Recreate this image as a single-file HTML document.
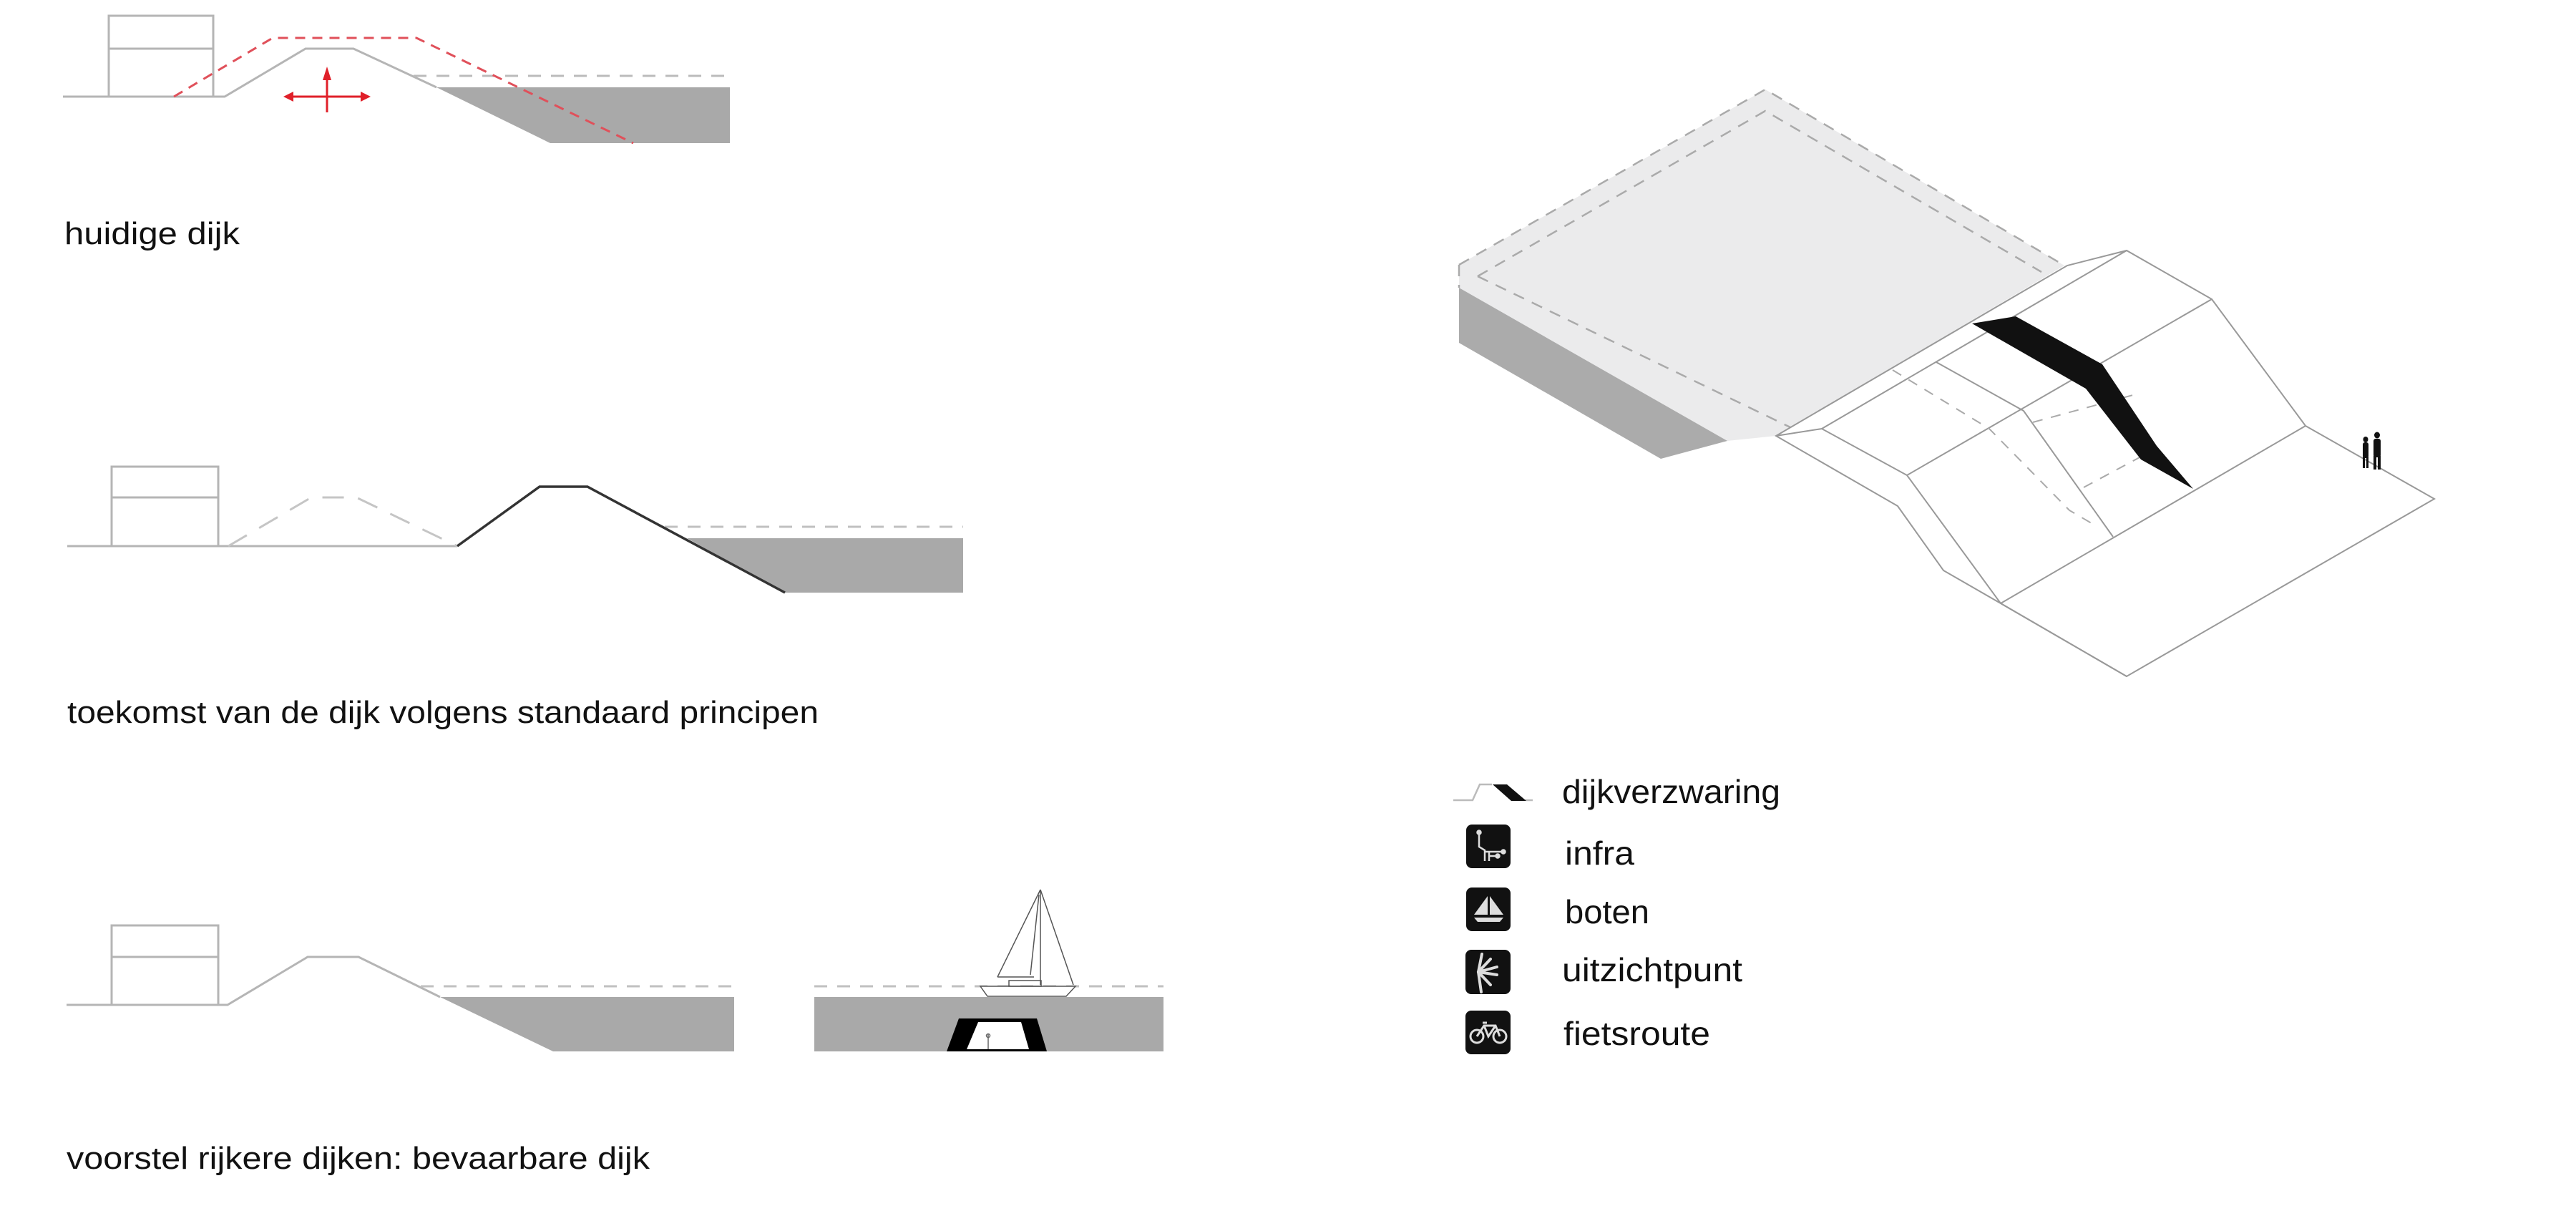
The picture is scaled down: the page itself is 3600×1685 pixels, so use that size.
<!DOCTYPE html>
<html><head><meta charset="utf-8"><style>
html,body{margin:0;padding:0;background:#fff;}
svg{display:block;}
text{font-family:"Liberation Sans",sans-serif;fill:#111;}
</style></head><body>
<svg width="3600" height="1685" viewBox="0 0 3600 1685" xmlns="http://www.w3.org/2000/svg">
<!-- Section 1: huidige dijk -->
<g fill="none" stroke="#b5b5b5" stroke-width="3">
  <polyline points="88,135 314,135 427,68 494,68 610,122"/>
  <rect x="152" y="22" width="146" height="113"/>
  <line x1="152" y1="68" x2="298" y2="68"/>
</g>
<polygon points="610,122 1020,122 1020,200 769,200" fill="#a9a9a9"/>
<line x1="578" y1="106" x2="1020" y2="106" stroke="#bbb" stroke-width="3" stroke-dasharray="18,14"/>
<polyline points="243,135 381,53 582,53 885,200" fill="none" stroke="#e0505a" stroke-width="3" stroke-dasharray="14,10"/>
<g stroke="#e0202a" stroke-width="3" fill="#e0202a">
  <line x1="457" y1="100" x2="457" y2="157"/>
  <line x1="405" y1="135" x2="508" y2="135"/>
  <polygon points="457,93 451,112 463,112" stroke="none"/>
  <polygon points="396,135 410,128 410,142" stroke="none"/>
  <polygon points="518,135 504,128 504,142" stroke="none"/>
</g>
<text x="90" y="341" font-size="44" textLength="245" lengthAdjust="spacingAndGlyphs">huidige dijk</text>

<!-- Section 2 -->
<g fill="none" stroke="#b5b5b5" stroke-width="3">
  <line x1="94" y1="763" x2="639" y2="763"/>
  <rect x="156" y="652" width="149" height="111"/>
  <line x1="156" y1="695" x2="305" y2="695"/>
</g>
<polyline points="319,763 435,695 498,695 639,763" fill="none" stroke="#c5c5c5" stroke-width="3" stroke-dasharray="30,20"/>
<polygon points="960,752 1346,752 1346,828 1097,828" fill="#a9a9a9"/>
<line x1="929" y1="736" x2="1346" y2="736" stroke="#c0c0c0" stroke-width="3" stroke-dasharray="18,14"/>
<polyline points="639,763 754,680 821,680 1097,828" fill="none" stroke="#333" stroke-width="3.5"/>
<text x="94" y="1010" font-size="44" textLength="1050" lengthAdjust="spacingAndGlyphs">toekomst van de dijk volgens standaard principen</text>

<!-- Section 3 -->
<g fill="none" stroke="#b5b5b5" stroke-width="3">
  <polyline points="93,1404 318,1404 430,1337 501,1337 615,1393"/>
  <rect x="156" y="1293" width="149" height="111"/>
  <line x1="156" y1="1337" x2="305" y2="1337"/>
</g>
<polygon points="615,1393 1026,1393 1026,1469 773,1469" fill="#a9a9a9"/>
<line x1="588" y1="1378" x2="1026" y2="1378" stroke="#c0c0c0" stroke-width="3" stroke-dasharray="18,14"/>
<rect x="1138" y="1393" width="488" height="76" fill="#a9a9a9"/>
<line x1="1138" y1="1378" x2="1626" y2="1378" stroke="#c0c0c0" stroke-width="3" stroke-dasharray="18,14"/>
<polygon points="1340,1423 1449,1423 1463,1469 1323,1469" fill="#000"/>
<polygon points="1367,1428 1427,1428 1438,1466 1351,1466" fill="#fff"/>
<g stroke="#666" stroke-width="1.5" fill="none">
  <line x1="1381" y1="1445" x2="1381" y2="1466"/>
  <circle cx="1381" cy="1447" r="2.5"/>
</g>
<!-- sailboat -->
<g stroke="#555" stroke-width="1.5" fill="none">
  <line x1="1454" y1="1243" x2="1454" y2="1376"/>
  <line x1="1454" y1="1243" x2="1394" y2="1365"/>
  <line x1="1454" y1="1243" x2="1500" y2="1376"/>
  <line x1="1452" y1="1250" x2="1440" y2="1362"/>
  <line x1="1394" y1="1365" x2="1445" y2="1365"/>
  <polygon points="1370,1378 1503,1378 1490,1392 1380,1392" fill="#fff"/>
  <rect x="1410" y="1370" width="45" height="8"/>
</g>
<text x="93" y="1633" font-size="44" textLength="815" lengthAdjust="spacingAndGlyphs">voorstel rijkere dijken: bevaarbare dijk</text>

<!-- Isometric -->
<polygon points="2039,370 2467,125 2885,371 2482,609 2414,616 2039,402" fill="#ebebec"/>
<polygon points="2039,402 2414,616 2321,641 2039,479" fill="#ababab"/>
<g fill="none" stroke="#aaa" stroke-width="2.5" stroke-dasharray="16,12">
  <polyline points="2039,370 2467,125 2885,371"/>
  <polyline points="2065,386 2467,155 2853,380"/>
  <line x1="2065" y1="386" x2="2502" y2="597"/>
  <line x1="2039" y1="370" x2="2039" y2="402"/>
</g>
<g fill="#fff" stroke="#999" stroke-width="2">
  <polygon points="2482,609 2889,371 2972,350 3091,418 3222,595 3402,697 2972,945 2796,843 2716,797 2652,707"/>
</g>
<g fill="none" stroke="#999" stroke-width="2">
  <polyline points="2482,609 2546,599 2665,664 2796,843 2972,945"/>
  <line x1="2546" y1="599" x2="2972" y2="350"/>
  <line x1="2665" y1="664" x2="3091" y2="418"/>
  <line x1="2796" y1="843" x2="3222" y2="595"/>
  <polyline points="2706,506 2828,574 2953,750"/>
</g>
<g fill="none" stroke="#aaa" stroke-width="2" stroke-dasharray="14,12">
  <polyline points="2645,517 2780,599 2892,713 2928,734"/>
  <line x1="2841" y1="590" x2="2988" y2="550"/>
  <line x1="2912" y1="681" x2="2992" y2="638"/>
</g>
<polygon points="2756,452 2817,442 2938,509 3014,623 3065,683 2992,642 2915,543" fill="#111"/>
<g fill="#111">
  <ellipse cx="3306" cy="614" rx="3.5" ry="4"/>
  <rect x="3302" y="618" width="8" height="22" rx="3"/>
  <rect x="3302" y="638" width="3" height="16"/>
  <rect x="3307" y="638" width="3" height="16"/>
  <ellipse cx="3322" cy="608" rx="4" ry="4.5"/>
  <rect x="3317" y="613" width="10" height="26" rx="3"/>
  <rect x="3317" y="637" width="4" height="19"/>
  <rect x="3323" y="637" width="4" height="19"/>
</g>

<!-- Legend -->
<polyline points="2031,1118 2058,1118 2068,1096 2085,1096" fill="none" stroke="#bbb" stroke-width="2.5"/>
<line x1="2131" y1="1118" x2="2142" y2="1118" stroke="#bbb" stroke-width="2.5"/>
<polygon points="2086,1096 2106,1096 2133,1119 2112,1119" fill="#111"/>
<text x="2183" y="1122" font-size="46" textLength="305" lengthAdjust="spacingAndGlyphs">dijkverzwaring</text>

<rect x="2049" y="1152" width="62" height="61" rx="8" fill="#111"/>
<g stroke="#ddd" stroke-width="2.5" fill="#ddd">
  <polyline points="2067,1163 2067,1183 2075,1188 2075,1203" fill="none"/>
  <polyline points="2075,1190 2100,1190" fill="none"/>
  <polyline points="2081,1190 2081,1203" fill="none"/>
  <polyline points="2081,1196 2092,1196" fill="none"/>
  <circle cx="2067" cy="1163" r="2.5"/><circle cx="2101" cy="1190" r="2.5"/><circle cx="2093" cy="1196" r="2.5"/>
</g>
<text x="2187" y="1208" font-size="46" textLength="97" lengthAdjust="spacingAndGlyphs">infra</text>

<rect x="2049" y="1240" width="62" height="61" rx="8" fill="#111"/>
<g fill="#ddd">
  <polygon points="2079,1252 2079,1278 2060,1278"/>
  <polygon points="2082,1252 2101,1278 2082,1278"/>
  <polygon points="2060,1282 2101,1282 2096,1288 2065,1288"/>
</g>
<text x="2187" y="1290" font-size="46" textLength="118" lengthAdjust="spacingAndGlyphs">boten</text>

<rect x="2048" y="1327" width="63" height="62" rx="8" fill="#111"/>
<g stroke="#ddd" stroke-width="4" stroke-linecap="round">
  <line x1="2066" y1="1358" x2="2071" y2="1333"/>
  <line x1="2066" y1="1358" x2="2083" y2="1340"/>
  <line x1="2066" y1="1358" x2="2092" y2="1351"/>
  <line x1="2066" y1="1358" x2="2092" y2="1362"/>
  <line x1="2066" y1="1358" x2="2083" y2="1376"/>
  <line x1="2066" y1="1358" x2="2070" y2="1386"/>
</g>
<text x="2183" y="1371" font-size="46" textLength="252" lengthAdjust="spacingAndGlyphs">uitzichtpunt</text>

<rect x="2048" y="1412" width="63" height="61" rx="8" fill="#111"/>
<g stroke="#ddd" stroke-width="3" fill="none">
  <circle cx="2064" cy="1448" r="9"/><circle cx="2096" cy="1448" r="9"/>
  <polyline points="2064,1448 2074,1433 2090,1433 2096,1448"/>
  <polyline points="2074,1433 2080,1448 2090,1433"/>
  <line x1="2072" y1="1429" x2="2078" y2="1429"/>
</g>
<text x="2185" y="1460" font-size="46" textLength="205" lengthAdjust="spacingAndGlyphs">fietsroute</text>
</svg>
</body></html>
